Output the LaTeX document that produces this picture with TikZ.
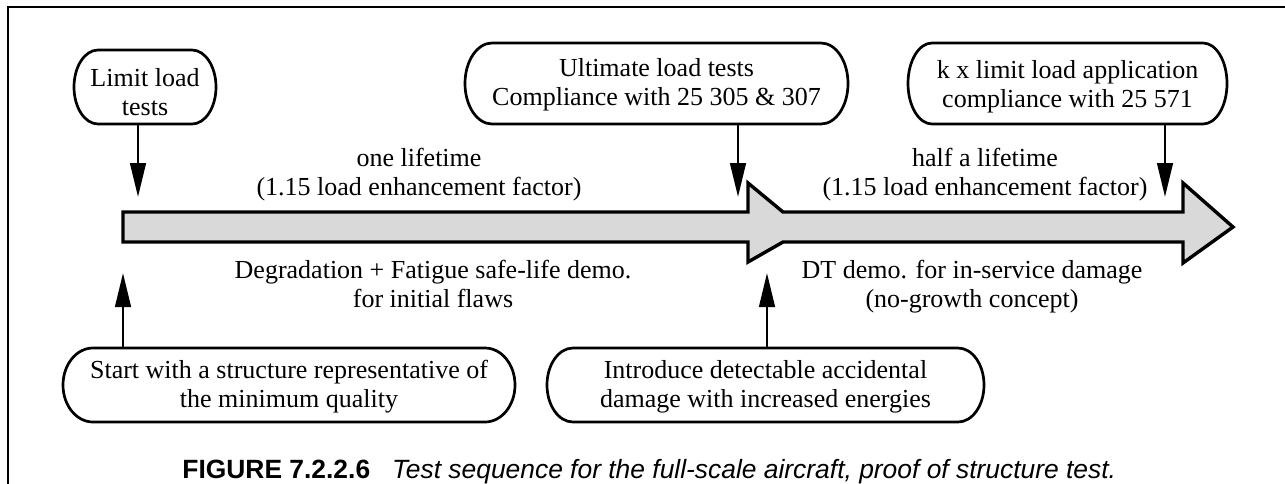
\documentclass[tikz,border=0pt]{standalone}
\usepackage{fontspec}
\setmainfont{Liberation Serif}
\newfontfamily\capfont{Liberation Sans}
\usetikzlibrary{arrows.meta,calc}
\newcommand{\pillpath}[2]{%
  \draw[boxline] let \p1=(#1.north west), \p2=(#1.south east), \n1={(\y1-\y2)/2} in
    (\x1+#2,\y1) -- (\x2-#2,\y1)
    arc[start angle=90,end angle=-90,x radius=#2,y radius=\n1]
    -- (\x1+#2,\y2)
    arc[start angle=270,end angle=90,x radius=#2,y radius=\n1] -- cycle;}
\begin{document}
\begin{tikzpicture}[x=0.5pt,y=-0.5pt,
  boxline/.style={line width=1.35pt},
  pillbox/.style={draw=none,inner sep=0pt,outer sep=0pt},
  txt/.style={inner sep=0pt,align=center,font=\fontsize{13}{14.5}\selectfont},
  arr/.style={line width=1.3pt,-{Triangle[length=17pt,width=7.8pt]}},
  bigarrow/.style={line width=1.7pt,fill=black!15,line join=miter},
  frame/.style={line width=1.3pt,line join=miter}]
\useasboundingbox (0,0) rectangle (1285,483);
\draw[frame] (8,490) -- (8,7) -- (1290,7);

% big timeline arrow
\draw[bigarrow] (123,212) -- (748,212) -- (748,183) -- (783,212) -- (1183,212)
  -- (1183,183) -- (1233,227) -- (1183,263) -- (1183,242) -- (783,242)
  -- (748,262) -- (748,242) -- (123,242) -- cycle;

% labels along the arrow
\node[txt] (l1) at (419,175) {one lifetime\\(1.15 load enhancement factor)};
\node[txt] (l2) at (985,175) {half a lifetime\\(1.15 load enhancement factor)};
\node[txt] (l3) at (433,284) {Degradation + Fatigue safe-life demo.\\for initial flaws};
\node[txt] (l4) at (972,286.5) {DT demo. for in-service damage\\(no-growth concept)};

% boxes
\node[pillbox,minimum width=71pt,minimum height=37pt] (n1) at (145,87) {};
\node[txt] (n1t) at (145,92) {Limit load\\tests};
\pillpath{n1}{12pt}

\node[pillbox,minimum width=191.5pt,minimum height=40.5pt] (n2) at (656.5,83.5) {};
\node[txt] (n2t) at (656.5,84.5) {Ultimate load tests\\Compliance with 25 305 \& 307};
\pillpath{n2}{13.5pt}

\node[pillbox,minimum width=159.5pt,minimum height=40.5pt] (n3) at (1067.5,83.5) {};
\node[txt] (n3t) at (1067.5,86.5) {k x limit load application\\compliance with 25 571};
\pillpath{n3}{12pt}

\node[pillbox,minimum width=226pt,minimum height=37pt] (n4) at (289,385) {};
\node[txt] (n4t) at (289,386.5) {Start with a structure representative of\\the minimum quality};
\pillpath{n4}{15pt}

\node[pillbox,minimum width=218.5pt,minimum height=37pt] (n5) at (765.5,385) {};
\node[txt] (n5t) at (765.5,386.5) {Introduce detectable accidental\\damage with increased energies};
\pillpath{n5}{13pt}

% arrow end points
\coordinate (t1) at (138,197);
\coordinate (t2) at (738,197);
\coordinate (t3) at (1165,197);
\coordinate (t4) at (123,273);
\coordinate (t5) at (767,273);

\draw[arr] (n1.south -| t1) -- (t1);
\draw[arr] (n2.south -| t2) -- (t2);
\draw[arr] (n3.south -| t3) -- (t3);
\draw[arr] (n4.north -| t4) -- (t4);
\draw[arr] (n5.north -| t5) -- (t5);

% caption
\node[anchor=base west,inner sep=0pt,font=\capfont\fontsize{13.2}{15}\selectfont] (cap) at (182,478)
  {\textbf{FIGURE 7.2.2.6}\hspace{11pt}\textit{Test sequence for the full-scale aircraft, proof of structure test.}};
\end{tikzpicture}
\end{document}
